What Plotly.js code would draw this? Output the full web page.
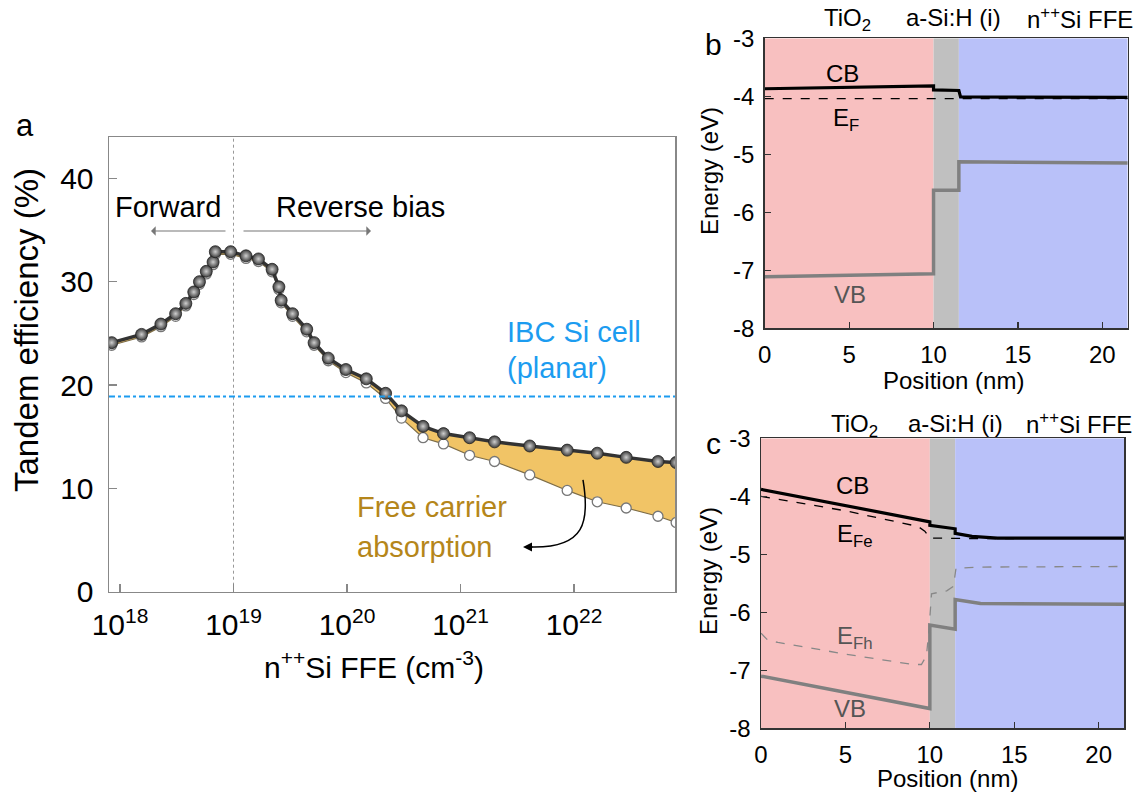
<!DOCTYPE html>
<html>
<head>
<meta charset="utf-8">
<script src="https://cdn.plot.ly/plotly-3.0.1.min.js"></script>
<style>html,body{margin:0;padding:0;background:#fff;}#chart{width:1138px;height:795px;}</style>
</head>
<body>
<div id="chart"></div>
<script>
// ---------- Panel a data ----------
const dopingExp = [17.927,18.19,18.36,18.49,18.58,18.65,18.70,18.76,18.82,18.84,18.975,19.11,19.22,19.34,19.40,19.42,19.52,19.645,19.71,19.835,19.99,20.17,20.34,20.48,20.67,20.85,21.08,21.30,21.61,21.94,22.205,22.46,22.74,22.90];
const effNoFCA = [24.1,24.9,25.9,26.9,27.9,29.0,30.0,31.0,31.9,32.9,32.9,32.5,32.2,31.2,29.5,28.2,26.9,25.4,24.1,22.6,21.5,20.6,19.2,17.5,16.0,15.3,14.9,14.5,14.1,13.7,13.4,13.0,12.6,12.5];
const effWithFCA = [23.85,24.65,25.65,26.65,27.65,28.75,29.75,30.75,31.65,32.65,32.65,32.25,31.95,30.95,29.25,27.95,26.65,25.15,23.85,22.35,21.2,20.2,18.7,16.8,14.9,14.3,13.2,12.6,11.3,9.8,8.7,8.1,7.3,6.7];
const ibcEfficiency = 18.9;
const xTickExp = [18,19,20,21,22];
const effTicks = [0,10,20,30,40];

// ---------- Panel b data ----------
const posCB_b = [0,10,10,11.5,11.6,21.5];
const eCB_b   = [-3.87,-3.82,-3.89,-3.90,-4.01,-4.02];
const posEF_b = [0,21.5];
const eEF_b   = [-4.04,-4.04];
const posVB_b = [0,10,10,11.5,11.5,21.5];
const eVB_b   = [-7.11,-7.06,-5.62,-5.62,-5.13,-5.15];

// ---------- Panel c data ----------
const posCB_c = [0,10,10,11.5,11.5,12.5,14,21.5];
const eCB_c   = [-3.88,-4.44,-4.50,-4.56,-4.64,-4.69,-4.72,-4.72];
const posEFe_c = [0,5,9.3,9.7,10,11.5,13,21.5];
const eEFe_c   = [-4.0,-4.25,-4.52,-4.6,-4.72,-4.73,-4.73,-4.72];
const posEFh_c = [0,0.4,1,5,9,9.5,9.8,9.95,10.1,11,11.4,11.55,13,21.5];
const eEFh_c   = [-6.36,-6.48,-6.52,-6.72,-6.9,-6.9,-6.75,-6.3,-5.68,-5.63,-5.55,-5.24,-5.22,-5.21];
const posVB_c = [0,10,10,11.5,11.5,13,21.5];
const eVB_c   = [-7.10,-7.66,-6.22,-6.29,-5.78,-5.85,-5.86];

const layers = [[0,10,'#F8C0C0'],[10,11.5,'#C0C0C0'],[11.5,21.5,'#B9C1F9']];
const energyTicks = [-8,-7,-6,-5,-4,-3];
const posTicks = [0,5,10,15,20];

// ---------- helpers ----------
const W = 1138, H = 795;
const px = x => x / W;
const py = y => 1 - y / H;
const FONT = 'Arial, "Liberation Sans", sans-serif';
const conc = dopingExp.map(e => Math.pow(10, e));

const traces = [
  {x:[1e19,1e19], y:[0,44], mode:'lines', line:{color:'#999', width:1, dash:'dot'}, xaxis:'x', yaxis:'y', hoverinfo:'skip'},
  {x:conc, y:effWithFCA, mode:'lines+markers', line:{color:'#7d6d48', width:1.2},
   marker:{size:10, color:'#ffffff', line:{color:'#777', width:1.3}}, xaxis:'x', yaxis:'y'},
  {x:conc, y:effNoFCA, mode:'lines+markers', fill:'tonexty', fillcolor:'#F1C466',
   line:{color:'#333', width:3.5},
   marker:{size:12, color:'#3c3c3c', gradient:{type:'radial', color:'#cfcfcf'}, line:{color:'#222', width:0.8}},
   xaxis:'x', yaxis:'y'},
  // panel b
  {x:posEF_b, y:eEF_b, mode:'lines', line:{color:'#000', width:1.3, dash:'dash'}, xaxis:'x2', yaxis:'y2'},
  {x:posCB_b, y:eCB_b, mode:'lines', line:{color:'#000', width:3.2}, xaxis:'x2', yaxis:'y2'},
  {x:posVB_b, y:eVB_b, mode:'lines', line:{color:'#808080', width:3.5}, xaxis:'x2', yaxis:'y2'},
  // panel c
  {x:posEFe_c, y:eEFe_c, mode:'lines', line:{color:'#000', width:1.3, dash:'dash'}, xaxis:'x3', yaxis:'y3'},
  {x:posEFh_c, y:eEFh_c, mode:'lines', line:{color:'#888', width:1.3, dash:'dash'}, xaxis:'x3', yaxis:'y3'},
  {x:posCB_c, y:eCB_c, mode:'lines', line:{color:'#000', width:3.2}, xaxis:'x3', yaxis:'y3'},
  {x:posVB_c, y:eVB_c, mode:'lines', line:{color:'#808080', width:3.5}, xaxis:'x3', yaxis:'y3'}
];

const axA = {showline:true, mirror:true, linecolor:'#888', linewidth:1.5, ticks:'inside', ticklen:8,
  tickcolor:'#888', tickwidth:1.2, showgrid:false, zeroline:false, tickfont:{family:FONT, size:30, color:'#000'}};
const axBC = {showline:true, mirror:true, linecolor:'#333', linewidth:1.5, ticks:'inside', ticklen:6,
  tickcolor:'#333', tickwidth:1.2, showgrid:false, zeroline:false, tickfont:{family:FONT, size:24, color:'#000'}};

const layout = {
  width:W, height:H, margin:{l:0,r:0,t:0,b:0}, showlegend:false,
  paper_bgcolor:'#fff', plot_bgcolor:'rgba(0,0,0,0)',
  font:{family:FONT, color:'#000'},
  xaxis: Object.assign({}, axA, {type:'log', domain:[px(109), px(675)], range:[17.903, 22.89], anchor:'y',
    tickvals: xTickExp.map(e => Math.pow(10, e)), ticktext: xTickExp.map(e => '10<sup>' + e + '</sup>'), ticklabelstandoff:6}),
  yaxis: Object.assign({}, axA, {domain:[py(591.7), py(137)], range:[0,44], anchor:'x', tickvals:effTicks, ticklabelstandoff:8}),
  xaxis2: Object.assign({}, axBC, {domain:[px(764.7), px(1127.7)], range:[0,21.5], anchor:'y2', tickvals:posTicks, ticklabelstandoff:4}),
  yaxis2: Object.assign({}, axBC, {domain:[py(328.3), py(38.3)], range:[-8,-3], anchor:'x2', tickvals:energyTicks, ticktext:energyTicks.map(String), ticklabelstandoff:4}),
  xaxis3: Object.assign({}, axBC, {domain:[px(761), px(1124)], range:[0,21.5], anchor:'y3', tickvals:posTicks, ticklabelstandoff:4}),
  yaxis3: Object.assign({}, axBC, {domain:[py(728.3), py(438.3)], range:[-8,-3], anchor:'x3', tickvals:energyTicks, ticktext:energyTicks.map(String), ticklabelstandoff:4}),
  shapes: [],
  annotations: []
};

// layer shading
['2','3'].forEach(k => {
  layers.forEach(L => layout.shapes.push({type:'rect', xref:'x'+k, yref:'y'+k, x0:L[0], x1:L[1], y0:-8, y1:-3,
    fillcolor:L[2], line:{width:0}, layer:'below'}));
});
// IBC reference line
layout.shapes.push({type:'line', xref:'paper', yref:'y', x0:px(109), x1:px(675), y0:ibcEfficiency, y1:ibcEfficiency,
  line:{color:'#1C9CF0', width:2, dash:'6px,3px,3px,3px'}});
// curved arrow (free carrier absorption)
function P(x,y){return px(x).toFixed(5)+','+py(y).toFixed(5);}
layout.shapes.push({type:'path', xref:'paper', yref:'paper',
  path:'M'+P(583,480)+' C'+P(590,522)+' '+P(585,548)+' '+P(532,547), line:{color:'#000', width:1.5}});

function ann(text, x, y, size, color, extra){
  layout.annotations.push(Object.assign({text:text, xref:'paper', yref:'paper', x:px(x), y:py(y), showarrow:false,
    xanchor:'center', yanchor:'middle', font:{family:FONT, size:size, color:color||'#000'}}, extra||{}));
}
// arrowhead for curved arrow
layout.annotations.push({xref:'paper', yref:'paper', x:px(523), y:py(547), ax:11, ay:0, text:'', showarrow:true,
  arrowhead:2, arrowsize:1.2, arrowwidth:1.5, arrowcolor:'#000'});
// forward / reverse arrows
layout.annotations.push({xref:'paper', yref:'paper', x:px(151), y:py(231), ax:227-151, ay:0, text:'', showarrow:true,
  arrowhead:1, arrowsize:1.3, arrowwidth:1.2, arrowcolor:'#777'});
layout.annotations.push({xref:'paper', yref:'paper', x:px(371), y:py(231), ax:242-371, ay:0, text:'', showarrow:true,
  arrowhead:1, arrowsize:1.3, arrowwidth:1.2, arrowcolor:'#777'});

// panel a texts
ann('a', 25, 126, 31);
ann('Forward', 168, 207, 29);
ann('Reverse bias', 360, 207, 29);
ann('IBC Si cell', 505, 332, 29, '#1C9CF0', {xanchor:'left'});
ann('(planar)', 505, 368, 29, '#1C9CF0', {xanchor:'left'});
ann('Free carrier', 355, 507, 29, '#B5861A', {xanchor:'left'});
ann('absorption', 355, 547, 29, '#B5861A', {xanchor:'left'});
ann('Tandem efficiency (%)', 26, 330, 33, '#000', {textangle:-90});
ann('n<sup>++</sup>Si FFE (cm<sup>-3</sup>)', 374, 665, 30);

// panel b texts
ann('b', 713, 45, 30);
ann('TiO<sub>2</sub>', 847, 20, 24);
ann('a-Si:H (i)', 954, 18, 24);
ann('n<sup>++</sup>Si FFE', 1080, 18, 24);
ann('CB', 842, 74, 24);
ann('E<sub>F</sub>', 846, 120, 24);
ann('VB', 850, 295, 24, '#555');
ann('Energy (eV)', 710, 171, 24, '#000', {textangle:-90});
ann('Position (nm)', 953, 380, 24);

// panel c texts
ann('c', 713, 443, 30);
ann('TiO<sub>2</sub>', 854, 425, 24);
ann('a-Si:H (i)', 955, 423, 24);
ann('n<sup>++</sup>Si FFE', 1079, 423, 24);
ann('CB', 852, 485, 24);
ann('E<sub>Fe</sub>', 855, 535, 24);
ann('E<sub>Fh</sub>', 855, 637, 24, '#555');
ann('VB', 850, 708, 24, '#555');
ann('Energy (eV)', 708, 571, 24, '#000', {textangle:-90});
ann('Position (nm)', 947, 778, 24);

Plotly.newPlot('chart', traces, layout, {staticPlot:true, displayModeBar:false});
</script>
</body>
</html>
